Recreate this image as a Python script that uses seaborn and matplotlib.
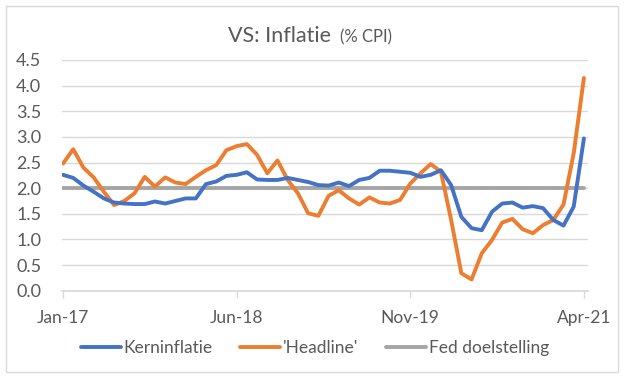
import numpy as np
import pandas as pd
import matplotlib
matplotlib.use("Agg")
import matplotlib.pyplot as plt
import seaborn as sns
from matplotlib.patches import Rectangle

# maanden jan-17 t/m apr-21
months = pd.date_range("2017-01-01", periods=52, freq="MS")
tick_labels = ["Jan-17", "Jun-18", "Nov-19", "Apr-21"]

kern = [2.26, 2.20, 2.05, 1.93, 1.80, 1.72, 1.70, 1.69, 1.69, 1.74, 1.70, 1.75,
        1.80, 1.80, 2.08, 2.13, 2.24, 2.26, 2.31, 2.17, 2.16, 2.16, 2.20, 2.16,
        2.12, 2.06, 2.05, 2.11, 2.04, 2.16, 2.20, 2.34, 2.34, 2.32, 2.30, 2.22,
        2.26, 2.35, 2.06, 1.44, 1.22, 1.18, 1.54, 1.70, 1.72, 1.62, 1.65, 1.61,
        1.38, 1.27, 1.64, 2.97]
headline = [2.48, 2.76, 2.40, 2.21, 1.93, 1.67, 1.75, 1.90, 2.22, 2.03, 2.21, 2.11,
            2.08, 2.22, 2.35, 2.45, 2.74, 2.82, 2.86, 2.65, 2.29, 2.54, 2.16, 1.90,
            1.51, 1.46, 1.85, 1.96, 1.80, 1.68, 1.82, 1.72, 1.70, 1.77, 2.09, 2.29,
            2.47, 2.32, 1.38, 0.34, 0.22, 0.73, 0.99, 1.33, 1.40, 1.20, 1.12, 1.28,
            1.38, 1.68, 2.68, 4.15]
fed = [2.0] * 52

series = ["Kerninflatie", "'Headline'", "Fed doelstelling"]
colors = {"Kerninflatie": "#4472C4", "'Headline'": "#ED7D31", "Fed doelstelling": "#A5A5A5"}

df = pd.DataFrame({"i": np.arange(len(months)),
                   "Kerninflatie": kern, "'Headline'": headline, "Fed doelstelling": fed})
long = df.melt(id_vars="i", var_name="reeks", value_name="cpi")

sns.set_theme(style="white")
plt.rcParams["font.family"] = ["Lato", "DejaVu Sans"]
txt = "#595959"

fig = plt.figure(figsize=(6.25, 3.83), dpi=100)
ax = fig.add_axes([62 / 625, 1 - 290.7 / 383, 526 / 625, 230.7 / 383])

sns.lineplot(data=long, x="i", y="cpi", hue="reeks", hue_order=series[::-1],
             palette=colors, linewidth=2.8, ax=ax, legend=False)

ax.set_xlim(-0.1, 51.4)
ax.set_ylim(0, 4.5)
ax.set_yticks(np.arange(0, 4.51, 0.5))
ax.set_yticklabels([f"{v:.1f}" for v in np.arange(0, 4.51, 0.5)])
ax.set_xticks([0, 17, 34, 51])
ax.set_xticklabels(tick_labels)
ax.grid(axis="y", color="#D9D9D9", linewidth=1)
ax.set_axisbelow(True)
for s in ["top", "right", "left"]:
    ax.spines[s].set_visible(False)
ax.spines["bottom"].set_color("#D9D9D9")
ax.tick_params(axis="x", colors="#D9D9D9", length=5, width=1, direction="out",
               labelcolor=txt, labelsize=12.5, pad=9, bottom=True)
ax.tick_params(axis="y", length=0, labelcolor=txt, labelsize=13, pad=15)
ax.set_xlabel("")
ax.set_ylabel("")

fig.text(228 / 625, 1 - 42.5 / 383, "VS: Inflatie", fontsize=15.5, color=txt,
         ha="left", va="baseline")
fig.text(340 / 625, 1 - 42.5 / 383, "(% CPI)", fontsize=12, color=txt,
         ha="left", va="baseline")

handles = [plt.Line2D([], [], color=colors[s], linewidth=2.8) for s in series]
fig.legend(handles, series, loc="center", bbox_to_anchor=(315 / 625, 1 - 348 / 383),
           ncol=3, frameon=False, fontsize=12.5, handlelength=2.3, handletextpad=0.15,
           columnspacing=1.6, labelcolor=txt)

fig.patches.append(Rectangle((6 / 625, 1 - 372 / 383), 612 / 625, 366 / 383,
                             transform=fig.transFigure, fill=False,
                             edgecolor="#D9D9D9", linewidth=1))

fig.savefig("out.png", dpi=100)
